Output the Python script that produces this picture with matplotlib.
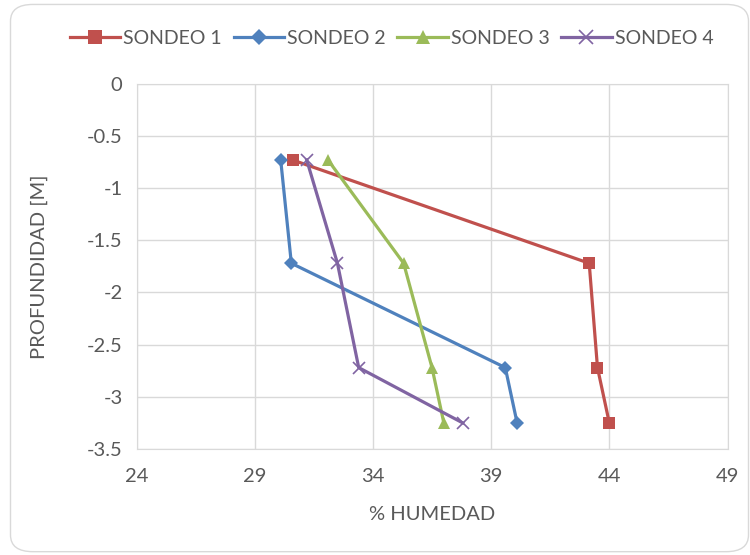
import matplotlib
matplotlib.use('Agg')
import matplotlib.pyplot as plt
from matplotlib.patches import FancyBboxPatch

# depths [m] and moisture [%]
depth = [-0.73, -1.72, -2.72, -3.25]
sondeo1 = [30.6, 43.15, 43.5, 44.0]
sondeo2 = [30.1, 30.55, 39.6, 40.1]
sondeo3 = [32.1, 35.3, 36.5, 37.0]
sondeo4 = [31.2, 32.5, 33.4, 37.8]
names = ['SONDEO 1', 'SONDEO 2', 'SONDEO 3', 'SONDEO 4']
x_ticks = [24, 29, 34, 39, 44, 49]
y_ticks = [0, -0.5, -1, -1.5, -2, -2.5, -3, -3.5]

plt.rcParams['font.family'] = ['Lato', 'DejaVu Sans']
txt = '#595959'
grid = '#d9d9d9'
fs = 14.5

fig = plt.figure(figsize=(7.5, 5.55), dpi=100)
border = FancyBboxPatch((0.014, 0.006), 0.984, 0.986, boxstyle='round,pad=0,rounding_size=0.03',
                        transform=fig.transFigure, fc='white', ec='#d9d9d9', lw=1.0, zorder=-10)
fig.patches.append(border)
ax = fig.add_axes([0.182, 0.191, 0.788, 0.658])
ax.patch.set_alpha(0)

styles = [('#C0504D', 's', 9), ('#4F81BD', 'D', 7), ('#9BBB59', '^', 9), ('#8064A2', 'x', 9)]
for vals, name, (c, m, ms) in zip([sondeo1, sondeo2, sondeo3, sondeo4], names, styles):
    ax.plot(vals, depth, color=c, lw=2.3, marker=m, ms=ms, mew=1.2 if m == 'x' else 0,
            mec=c, mfc=c, label=name, zorder=3)

ax.set_xlim(24, 49)
ax.set_ylim(-3.5, 0)
ax.set_xticks(x_ticks)
ax.set_yticks(y_ticks)
ax.set_yticklabels([f'{v:g}' for v in y_ticks])
ax.grid(True, color=grid, lw=1.0)
ax.tick_params(length=0, labelsize=fs, colors=txt, pad=10)
ax.tick_params(axis='x', pad=14)
for s in ax.spines.values():
    s.set_color(grid)
ax.set_xlabel('% HUMEDAD', fontsize=fs, color=txt, labelpad=15)
ax.set_ylabel('PROFUNDIDAD [M]', fontsize=fs, color=txt, labelpad=28)

fig.legend(loc='upper center', bbox_to_anchor=(0.522, 0.978), ncol=4, frameon=False,
           fontsize=14, labelcolor=txt, handlelength=2.6, handletextpad=0.15,
           columnspacing=0.6, markerscale=1.15)

fig.savefig('out.png', dpi=100)
